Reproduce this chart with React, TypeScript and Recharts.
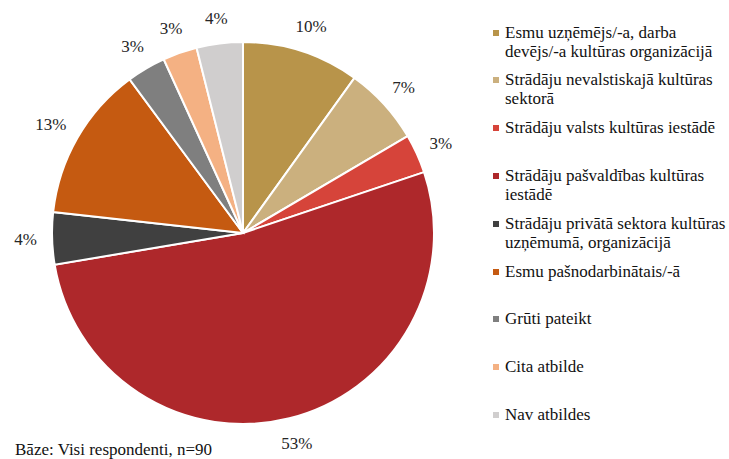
import { Legend, Pie, PieChart } from "recharts";

const categories = [
  "Esmu uzņēmējs/-a, darba\ndevējs/-a kultūras organizācijā",
  "Strādāju nevalstiskajā kultūras\nsektorā",
  "Strādāju valsts kultūras iestādē",
  "Strādāju pašvaldības kultūras\niestādē",
  "Strādāju privātā sektora kultūras\nuzņēmumā, organizācijā",
  "Esmu pašnodarbinātais/-ā",
  "Grūti pateikt",
  "Cita atbilde",
  "Nav atbildes",
];

// shares; printed labels as shown in the source
const shares = [9.9, 6.6, 3.3, 52.4, 4.4, 13.1, 3.3, 2.9, 3.9];
const percentLabels = ["10%", "7%", "3%", "53%", "4%", "13%", "3%", "3%", "4%"];

const colors = [
  "#b8944a",
  "#cbb07e",
  "#d6443a",
  "#ae282b",
  "#404040",
  "#c55a11",
  "#7f7f7f",
  "#f4b183",
  "#d0cece",
];

const baseNote = "Bāze: Visi respondenti, n=90";

const data = categories.map((name, i) => ({
  name,
  value: shares[i],
  fill: colors[i],
}));

const FONT = "'Liberation Serif', 'Times New Roman', serif";
const RAD = Math.PI / 180;

function renderLabel(props: any) {
  const { cx, cy, midAngle, outerRadius, index } = props;
  const text = percentLabels[index];
  const ux = Math.cos(-midAngle * RAD);
  const uy = Math.sin(-midAngle * RAD);
  const r = outerRadius + 18;
  const w = text.length * 8.5;
  const h = 15;
  const x = cx + r * ux + (w / 2) * ux;
  const y = cy + r * uy + (h / 2) * uy;
  return (
    <text
      key={`lbl-${index}`}
      x={x}
      y={y}
      textAnchor="middle"
      dominantBaseline="central"
      fill="#262626"
      fontFamily={FONT}
      fontSize={17}
    >
      {text}
    </text>
  );
}

function LegendList() {
  return (
    <div style={{ position: "relative", fontFamily: FONT, fontSize: 17, lineHeight: "19px", color: "#111" }}>
      {data.map((entry, i) => (
        <div key={i} style={{ position: "absolute", left: 0, top: 22.5 + i * 47.8, width: 239 }}>
          <span
            style={{
              position: "absolute",
              left: 3,
              top: 7,
              width: 6,
              height: 6,
              background: entry.fill,
            }}
          />
          <div style={{ marginLeft: 15, whiteSpace: "pre-line", fontFamily: FONT }}>{entry.name}</div>
        </div>
      ))}
    </div>
  );
}

export default function App() {
  return (
    <div
      style={{
        position: "absolute",
        left: 0,
        top: 0,
        width: 729,
        height: 459,
        background: "#fff",
        overflow: "hidden",
        fontFamily: FONT,
      }}
    >
      <PieChart
        width={729}
        height={459}
        margin={{ top: 0, right: 0, bottom: 0, left: 0 }}
        style={{ fontFamily: FONT }}
      >
        <Pie
          data={data}
          dataKey="value"
          nameKey="name"
          cx={243}
          cy={233}
          outerRadius={191}
          startAngle={90}
          endAngle={-270}
          stroke="#fff"
          strokeWidth={2}
          label={renderLabel}
          labelLine={false}
          isAnimationActive={false}
        />
        <Legend
          content={<LegendList />}
          wrapperStyle={{ position: "absolute", left: 490, top: 0, width: 239, height: 459 }}
        />
      </PieChart>
      <div
        style={{
          position: "absolute",
          left: 15,
          top: 440,
          fontSize: 17,
          lineHeight: "19px",
          color: "#111",
          whiteSpace: "nowrap",
        }}
      >
        {baseNote}
      </div>
    </div>
  );
}
